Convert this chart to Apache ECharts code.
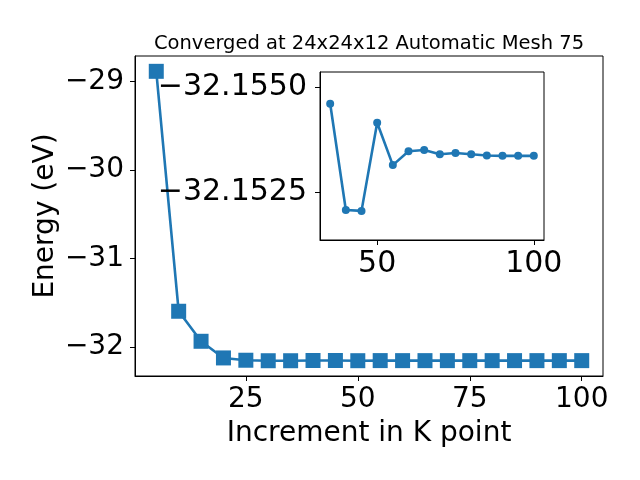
<!DOCTYPE html>
<html>
<head>
<meta charset="utf-8">
<script src="https://cdn.jsdelivr.net/npm/echarts@6/dist/echarts.min.js"></script>
<style>html,body{margin:0;padding:0;background:#fff;}#c{width:640px;height:480px;}</style>
</head>
<body>
<div id="c"></div>
<script>
// Main chart data
const kPoints = [5,10,15,20,25,30,35,40,45,50,55,60,65,70,75,80,85,90,95,100];
const energies = [-28.887,-31.596,-31.935,-32.123,-32.149,-32.1546,-32.1546,-32.1521,-32.1521,-32.1542,-32.1531,-32.1535,-32.1535,-32.1534,-32.1534,-32.1534,-32.1534,-32.1534,-32.1534,-32.1534];
const mainXTicks = [25,50,75,100];
const mainYTicks = [-29,-30,-31,-32];
// Inset data
const insetK = [35,40,45,50,55,60,65,70,75,80,85,90,95,100];
const insetE = [-32.15460,-32.15207,-32.15205,-32.15415,-32.15314,-32.15347,-32.15350,-32.15340,-32.15343,-32.15340,-32.15337,-32.15336,-32.15336,-32.15336];
const insetXTicks = [50,100];
const insetYTicks = [-32.1550,-32.1525];

const FONT = 'DejaVu Sans';
const BLUE = '#1f77b4';
const MAINFS = 28;
const INSETFS = 30;
const minus = s => String(s).replace('-', '\u2212');

const chart = echarts.init(document.getElementById('c'), null, {renderer:'canvas'});
const axisCommon = {
  axisLine:{show:true, onZero:false, lineStyle:{color:'#000', width:1}},
  splitLine:{show:false},
};
chart.setOption({
  animation:false,
  backgroundColor:'#fff',
  title:{
    text:'Converged at 24x24x12 Automatic Mesh 75',
    left:364, top:29, textAlign:'center',
    textStyle:{fontFamily:FONT, fontSize:19.5, fontWeight:'normal', color:'#000'}
  },
  grid:[
    {left:135, top:56, width:468, height:320, show:true, borderColor:'#000', borderWidth:1, backgroundColor:'#fff'},
    {left:320, top:72, width:224, height:168, show:true, borderColor:'#000', borderWidth:1, backgroundColor:'#fff', z:5}
  ],
  xAxis:[
    Object.assign({}, axisCommon, {
      type:'value', gridIndex:0, min:0.25, max:104.75,
      name:'Increment in K point', nameLocation:'middle', nameGap:44, nameMoveOverlap:false,
      nameTextStyle:{fontFamily:FONT, fontSize:28, color:'#000'},
      axisTick:{show:true, length:5, lineStyle:{color:'#000'}, customValues:mainXTicks},
      axisLabel:{fontFamily:FONT, fontSize:MAINFS, color:'#000', margin:10, customValues:mainXTicks, formatter:v=>minus(v)}
    }),
    Object.assign({}, axisCommon, {
      type:'value', gridIndex:1, min:31.75, max:103.25, z:6,
      axisTick:{show:true, length:5, lineStyle:{color:'#000'}, customValues:insetXTicks},
      axisLabel:{fontFamily:FONT, fontSize:INSETFS, color:'#000', margin:9, customValues:insetXTicks, formatter:v=>minus(v)}
    })
  ],
  yAxis:[
    Object.assign({}, axisCommon, {
      type:'value', gridIndex:0, min:-32.327, max:-28.714,
      name:'Energy (eV)', nameLocation:'middle', nameGap:75, nameMoveOverlap:false,
      nameTextStyle:{fontFamily:FONT, fontSize:28, color:'#000'},
      axisTick:{show:true, length:5, lineStyle:{color:'#000'}, customValues:mainYTicks},
      axisLabel:{fontFamily:FONT, fontSize:MAINFS, color:'#000', margin:11, customValues:mainYTicks, formatter:v=>minus(v)}
    }),
    Object.assign({}, axisCommon, {
      type:'value', gridIndex:1, inverse:true, min:-32.155357, max:-32.151357, z:6,
      axisTick:{show:true, length:5, lineStyle:{color:'#000'}, customValues:insetYTicks},
      axisLabel:{fontFamily:FONT, fontSize:INSETFS, color:'#000', margin:13, customValues:insetYTicks, formatter:v=>minus(Number(v).toFixed(4))}
    })
  ],
  series:[
    {
      type:'line', xAxisIndex:0, yAxisIndex:0,
      data:kPoints.map((k,i)=>[k, energies[i]]),
      symbol:'rect', symbolSize:15, showAllSymbol:true,
      lineStyle:{color:BLUE, width:2.6}, itemStyle:{color:BLUE}, z:2
    },
    {
      type:'line', xAxisIndex:1, yAxisIndex:1,
      data:insetK.map((k,i)=>[k, insetE[i]]),
      symbol:'circle', symbolSize:8, showAllSymbol:true,
      lineStyle:{color:BLUE, width:2.6}, itemStyle:{color:BLUE}, z:7
    }
  ]
});
</script>
</body>
</html>
